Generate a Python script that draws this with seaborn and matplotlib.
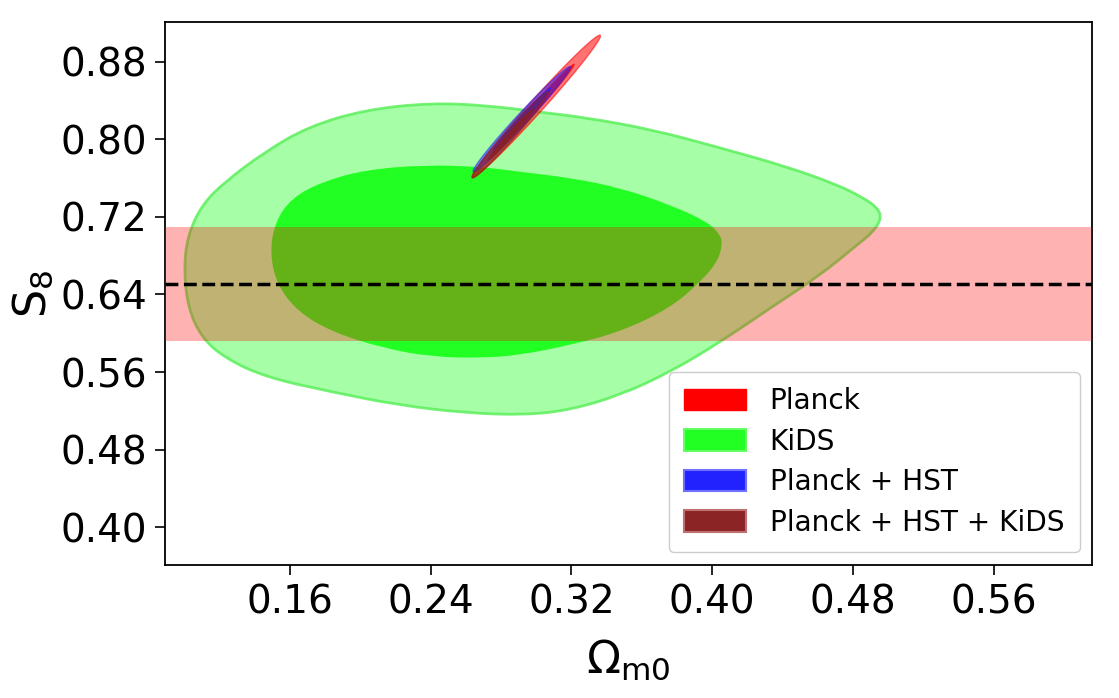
import numpy as np
import matplotlib
matplotlib.use("Agg")
import matplotlib.pyplot as plt
import seaborn as sns
from matplotlib.patches import Patch, PathPatch
from matplotlib.path import Path

# KiDS contours (outline points): Omega_m0, S8
kids_2s_om = [0.2408, 0.2027, 0.1702, 0.1458, 0.1230, 0.1099, 0.1020, 0.0997, 0.1020, 0.1099,
              0.1230, 0.1458, 0.1839, 0.2215, 0.2596, 0.2937, 0.3193, 0.3478, 0.3762, 0.4047,
              0.4331, 0.4616, 0.4803, 0.4917, 0.4963, 0.4940, 0.4860, 0.4712, 0.4428, 0.4047,
              0.3665, 0.3290, 0.3005, 0.2738]
kids_2s_s8 = [0.8377, 0.8305, 0.8129, 0.7871, 0.7562, 0.7324, 0.7015, 0.6674, 0.6261, 0.5952,
              0.5745, 0.5549, 0.5394, 0.5260, 0.5178, 0.5157, 0.5209, 0.5363, 0.5601, 0.5910,
              0.6261, 0.6602, 0.6880, 0.7046, 0.7190, 0.7293, 0.7396, 0.7531, 0.7716, 0.7912,
              0.8098, 0.8222, 0.8284, 0.8346]
kids_1s_om = [0.1486, 0.1515, 0.1611, 0.1782, 0.2027, 0.2368, 0.2692, 0.2909, 0.3193, 0.3478,
              0.3762, 0.3973, 0.4047, 0.4058, 0.4030, 0.3933, 0.3762, 0.3478, 0.3193, 0.2909,
              0.2692, 0.2408, 0.2124, 0.1839, 0.1646, 0.1526]
kids_1s_s8 = [0.6829, 0.7149, 0.7397, 0.7562, 0.7685, 0.7737, 0.7716, 0.7665, 0.7603, 0.7500,
              0.7324, 0.7149, 0.7015, 0.6911, 0.6736, 0.6530, 0.6261, 0.6014, 0.5879, 0.5776,
              0.5745, 0.5756, 0.5849, 0.6014, 0.6220, 0.6499]

# narrow CMB-type ellipses: centre, major half-axis, minor half-axis (data units)
planck_c, planck_maj, planck_min = (0.300, 0.834), (0.0364, 0.0733), (-0.0029, 0.0046)
hst_c, hst_maj, hst_min = (0.2918, 0.8207), (0.0276, 0.0542), (-0.0024, 0.0038)
all_c, all_maj, all_min = (0.2852, 0.8046), (0.0216, 0.0444), (-0.0021, 0.0034)

# horizontal S8 band
s8_mean = 0.651
s8_err = 0.059

labels = ["Planck", "KiDS", "Planck + HST", "Planck + HST + KiDS"]


def ellipse(c, maj, mnr, scale=1.0):
    t = np.linspace(0, 2 * np.pi, 300)
    x = c[0] + scale * (maj[0] * np.cos(t) + mnr[0] * np.sin(t))
    y = c[1] + scale * (maj[1] * np.cos(t) + mnr[1] * np.sin(t))
    return x, y


def smooth_path(xs, ys):
    # closed quadratic-bezier path, read points used as control points
    p = np.column_stack([xs, ys])
    n = len(p)
    mids = (p + np.roll(p, -1, axis=0)) / 2
    verts = [mids[-1]]
    codes = [Path.MOVETO]
    for i in range(n):
        verts += [p[i], mids[i]]
        codes += [Path.CURVE3, Path.CURVE3]
    return Path(verts, codes)


sns.set_style("ticks", {"axes.edgecolor": "black"})
plt.rcParams["font.family"] = ["DejaVu Sans"]
plt.rcParams["mathtext.fontset"] = "dejavusans"
for k in ["text.color", "axes.labelcolor", "xtick.color", "ytick.color"]:
    plt.rcParams[k] = "black"

fig = plt.figure(figsize=(11.19, 6.98), dpi=100)
ax = fig.add_axes([0.1475, 0.1905, 0.8285, 0.778])

# KiDS
ax.add_patch(PathPatch(smooth_path(kids_2s_om, kids_2s_s8), facecolor="#22ff22", alpha=0.4,
                       edgecolor="none", zorder=1))
ax.add_patch(PathPatch(smooth_path(kids_2s_om, kids_2s_s8), facecolor="none", alpha=0.8,
                       edgecolor="#55ee55", lw=2, zorder=1))
ax.add_patch(PathPatch(smooth_path(kids_1s_om, kids_1s_s8), facecolor="#22ff22",
                       edgecolor="none", zorder=2))

# band + mean
ax.axhspan(s8_mean - s8_err, s8_mean + s8_err, color="red", alpha=0.3, lw=0, zorder=3)
ax.axhline(s8_mean, color="black", ls="--", lw=2.5, zorder=4)

# Planck, Planck+HST, Planck+HST+KiDS
for c, maj, mnr, col, a in [(planck_c, planck_maj, planck_min, "red", 0.55),
                            (hst_c, hst_maj, hst_min, "#2222ff", 0.5),
                            (all_c, all_maj, all_min, "#8b2020", 0.55)]:
    x, y = ellipse(c, maj, mnr)
    ax.fill(x, y, facecolor=col, alpha=a, edgecolor=col, lw=1, zorder=5)
    x, y = ellipse(c, maj, mnr, 0.6)
    ax.fill(x, y, facecolor=col, alpha=0.85, edgecolor="none", zorder=5)

ax.set_xlim(0.089, 0.616)
ax.set_ylim(0.361, 0.921)
ax.set_xticks([0.16, 0.24, 0.32, 0.40, 0.48, 0.56])
ax.set_yticks([0.40, 0.48, 0.56, 0.64, 0.72, 0.80, 0.88])
ax.set_xticklabels(["0.16", "0.24", "0.32", "0.40", "0.48", "0.56"])
ax.set_yticklabels(["0.40", "0.48", "0.56", "0.64", "0.72", "0.80", "0.88"])
ax.tick_params(axis="both", labelsize=28, length=7, width=1.2, color="black", pad=6)
for s in ax.spines.values():
    s.set_linewidth(1.3)

ax.set_xlabel(r"$\Omega_{\rm m0}$", fontsize=32, labelpad=12)
ax.set_ylabel(r"$\mathrm{S}_8$", fontsize=32, labelpad=4)

handles = [Patch(facecolor="red", edgecolor="red", alpha=1.0),
           Patch(facecolor="#22ff22", edgecolor="#66ff66", lw=1.5),
           Patch(facecolor="#2222ff", edgecolor="#7070ff", lw=1.5),
           Patch(facecolor="#8b2525", edgecolor="#c07070", lw=1.5)]
ax.legend(handles, labels, loc="lower right", fontsize=20.2, handlelength=2.2,
          handleheight=0.8, handletextpad=0.85, labelspacing=0.45, borderpad=0.55,
          frameon=True, framealpha=1, edgecolor="#cccccc", borderaxespad=0.45)

fig.savefig("out.png", dpi=100)
